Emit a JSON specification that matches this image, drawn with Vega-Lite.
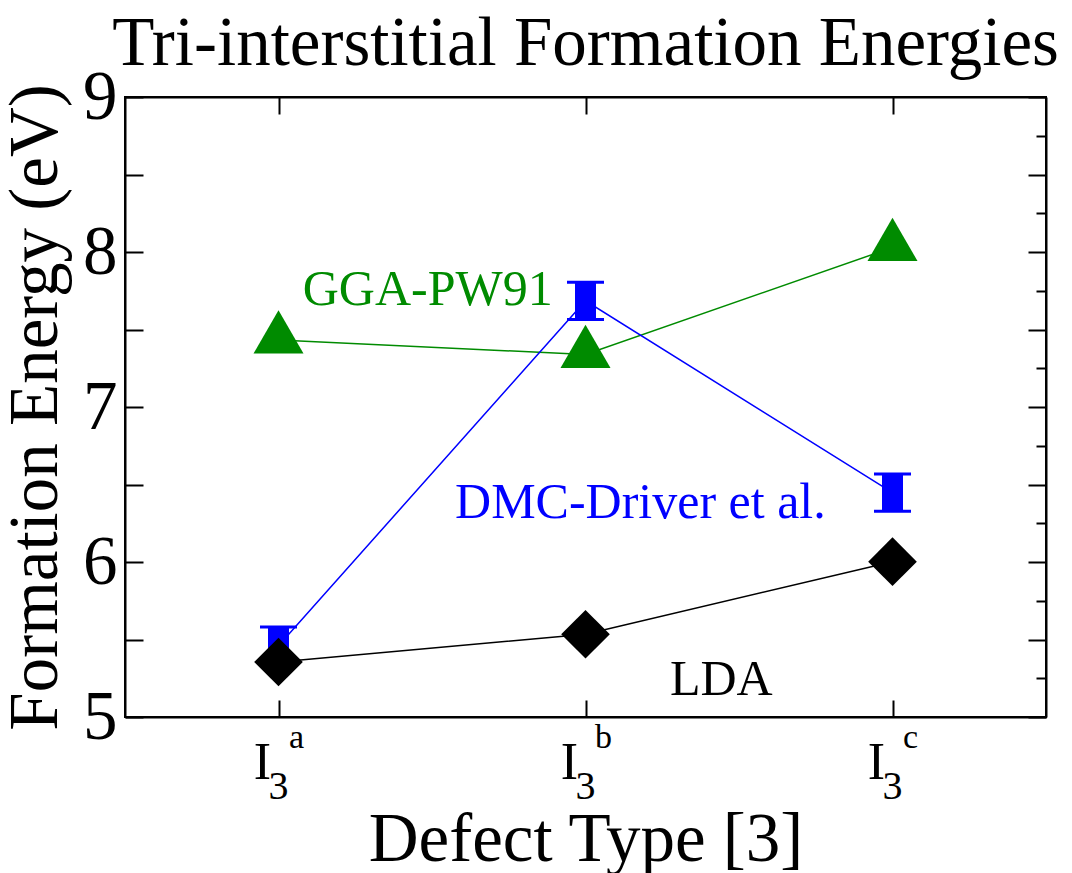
{
  "$schema": "https://vega.github.io/schema/vega-lite/v6.json",
  "width": 921,
  "height": 620,
  "autosize": {"type": "none"},
  "padding": {"left": 125, "top": 97, "right": 26, "bottom": 156},
  "background": "white",
  "title": {
    "text": "Tri-interstitial Formation Energies",
    "font": "Liberation Serif",
    "fontSize": 69,
    "fontWeight": "normal",
    "color": "black",
    "anchor": "middle",
    "frame": "group",
    "offset": -16
  },
  "config": {
    "view": {"stroke": "black", "strokeWidth": 2},
    "axis": {
      "grid": false,
      "domainColor": "black",
      "domainWidth": 2,
      "tickColor": "black",
      "tickWidth": 2,
      "labelFont": "Liberation Serif",
      "titleFont": "Liberation Serif",
      "labelColor": "black",
      "titleColor": "black",
      "titleFontWeight": "normal",
      "labelFontWeight": "normal"
    }
  },
  "datasets": {
    "lda": [
      {"defect": "I3a", "x": 1, "energy": 5.355},
      {"defect": "I3b", "x": 2, "energy": 5.534},
      {"defect": "I3c", "x": 3, "energy": 6.002}
    ],
    "gga": [
      {"defect": "I3a", "x": 1, "energy": 7.432},
      {"defect": "I3b", "x": 2, "energy": 7.339},
      {"defect": "I3c", "x": 3, "energy": 8.029}
    ],
    "dmc": [
      {"defect": "I3a", "x": 1, "energy": 5.46, "low": 5.34, "high": 5.58},
      {"defect": "I3b", "x": 2, "energy": 7.685, "low": 7.565, "high": 7.805},
      {"defect": "I3c", "x": 3, "energy": 6.447, "low": 6.327, "high": 6.567}
    ],
    "notes": [
      {"label": "GGA-PW91", "series": "GGA", "x": 1.079, "energy": 7.658},
      {"label": "DMC-Driver et al.", "series": "DMC", "x": 1.575, "energy": 6.284},
      {"label": "LDA", "series": "LDA", "x": 2.275, "energy": 5.142}
    ],
    "ticklabels": [
      {"x": 1, "base": "I", "sub": "3", "sup": "a"},
      {"x": 2, "base": "I", "sub": "3", "sup": "b"},
      {"x": 3, "base": "I", "sub": "3", "sup": "c"}
    ]
  },
  "layer": [
    {
      "layer": [
        {
          "data": {"name": "gga"},
          "mark": {"type": "line", "color": "#008B00", "strokeWidth": 1.5},
          "encoding": {
            "x": {
              "field": "x", "type": "quantitative",
              "scale": {"domain": [0.5, 3.5], "nice": false, "zero": false},
              "axis": {
                "orient": "bottom",
                "values": [1, 2, 3],
                "labels": false,
                "tickSize": -17,
                "title": "Defect Type [3]",
                "titleFontSize": 69,
                "titlePadding": 87
              }
            },
            "y": {
              "field": "energy", "type": "quantitative",
              "scale": {"domain": [5, 9], "nice": false, "zero": false},
              "axis": {
                "orient": "left",
                "values": [5, 5.25, 5.5, 5.75, 6, 6.25, 6.5, 6.75, 7, 7.25, 7.5, 7.75, 8, 8.25, 8.5, 8.75, 9],
                "labelExpr": "datum.value % 1 === 0 ? format(datum.value, 'd') : ''",
                "labelOverlap": false,
                "labelFontSize": 69,
                "labelPadding": 26,
                "tickSize": {"condition": {"test": "datum.value % 0.5 === 0", "value": -18}, "value": -10},
                "title": "Formation Energy (eV)",
                "titleFontSize": 69,
                "titlePadding": 12
              }
            }
          }
        },
        {
          "data": {"name": "gga"},
          "mark": {"type": "point", "shape": "M0,-1.19L-1,0.54L1,0.54Z", "filled": true, "opacity": 1, "color": "#008B00", "size": 2500, "strokeWidth": 0},
          "encoding": {
            "x": {"field": "x", "type": "quantitative"},
            "y": {"field": "energy", "type": "quantitative"}
          }
        },
        {
          "data": {"name": "dmc"},
          "mark": {"type": "line", "color": "#0000FF", "strokeWidth": 1.5},
          "encoding": {
            "x": {"field": "x", "type": "quantitative"},
            "y": {"field": "energy", "type": "quantitative"}
          }
        },
        {
          "data": {"name": "dmc"},
          "mark": {"type": "rule", "color": "#0000FF", "strokeWidth": 21},
          "encoding": {
            "x": {"field": "x", "type": "quantitative"},
            "y": {"field": "low", "type": "quantitative"},
            "y2": {"field": "high"}
          }
        },
        {
          "data": {"name": "dmc"},
          "mark": {"type": "tick", "orient": "horizontal", "color": "#0000FF", "size": 37, "thickness": 3, "opacity": 1},
          "encoding": {
            "x": {"field": "x", "type": "quantitative"},
            "y": {"field": "low", "type": "quantitative"}
          }
        },
        {
          "data": {"name": "dmc"},
          "mark": {"type": "tick", "orient": "horizontal", "color": "#0000FF", "size": 37, "thickness": 3, "opacity": 1},
          "encoding": {
            "x": {"field": "x", "type": "quantitative"},
            "y": {"field": "high", "type": "quantitative"}
          }
        },
        {
          "data": {"name": "lda"},
          "mark": {"type": "line", "color": "black", "strokeWidth": 1.5},
          "encoding": {
            "x": {"field": "x", "type": "quantitative"},
            "y": {"field": "energy", "type": "quantitative"}
          }
        },
        {
          "data": {"name": "lda"},
          "mark": {"type": "point", "shape": "diamond", "filled": true, "opacity": 1, "color": "black", "size": 2370, "strokeWidth": 0},
          "encoding": {
            "x": {"field": "x", "type": "quantitative"},
            "y": {"field": "energy", "type": "quantitative"}
          }
        },
        {
          "data": {"name": "notes"},
          "mark": {"type": "text", "font": "Liberation Serif", "fontSize": 50, "align": "left", "baseline": "alphabetic"},
          "encoding": {
            "x": {"field": "x", "type": "quantitative"},
            "y": {"field": "energy", "type": "quantitative"},
            "text": {"field": "label"},
            "color": {
              "field": "series", "type": "nominal",
              "scale": {"domain": ["GGA", "DMC", "LDA"], "range": ["#008B00", "#0000FF", "black"]},
              "legend": null
            }
          }
        },
        {
          "data": {"name": "ticklabels"},
          "mark": {"type": "text", "font": "Liberation Serif", "fontSize": 52, "align": "center", "baseline": "alphabetic", "color": "black", "dx": -16, "dy": 62},
          "encoding": {
            "x": {"field": "x", "type": "quantitative"},
            "y": {"datum": 5, "type": "quantitative"},
            "text": {"field": "base"}
          }
        },
        {
          "data": {"name": "ticklabels"},
          "mark": {"type": "text", "font": "Liberation Serif", "fontSize": 40, "align": "center", "baseline": "alphabetic", "color": "black", "dx": 0, "dy": 82},
          "encoding": {
            "x": {"field": "x", "type": "quantitative"},
            "y": {"datum": 5, "type": "quantitative"},
            "text": {"field": "sub"}
          }
        },
        {
          "data": {"name": "ticklabels"},
          "mark": {"type": "text", "font": "Liberation Serif", "fontSize": 34, "align": "center", "baseline": "alphabetic", "color": "black", "dx": 18, "dy": 31},
          "encoding": {
            "x": {"field": "x", "type": "quantitative"},
            "y": {"datum": 5, "type": "quantitative"},
            "text": {"field": "sup"}
          }
        }
      ]
    },
    {
      "data": {"name": "lda"},
      "mark": {"type": "point", "opacity": 0},
      "encoding": {
        "x": {
          "field": "x", "type": "quantitative",
          "scale": {"domain": [0.5, 3.5], "nice": false, "zero": false},
          "axis": {"orient": "top", "values": [1, 2, 3], "labels": false, "tickSize": -17, "title": null}
        },
        "y": {
          "field": "energy", "type": "quantitative",
          "scale": {"domain": [5, 9], "nice": false, "zero": false},
          "axis": {
            "orient": "right",
            "values": [5, 5.25, 5.5, 5.75, 6, 6.25, 6.5, 6.75, 7, 7.25, 7.5, 7.75, 8, 8.25, 8.5, 8.75, 9],
            "labels": false,
            "tickSize": {"condition": {"test": "datum.value % 0.5 === 0", "value": -18}, "value": -10},
            "title": null
          }
        }
      }
    }
  ],
  "resolve": {"axis": {"x": "independent", "y": "independent"}}
}
